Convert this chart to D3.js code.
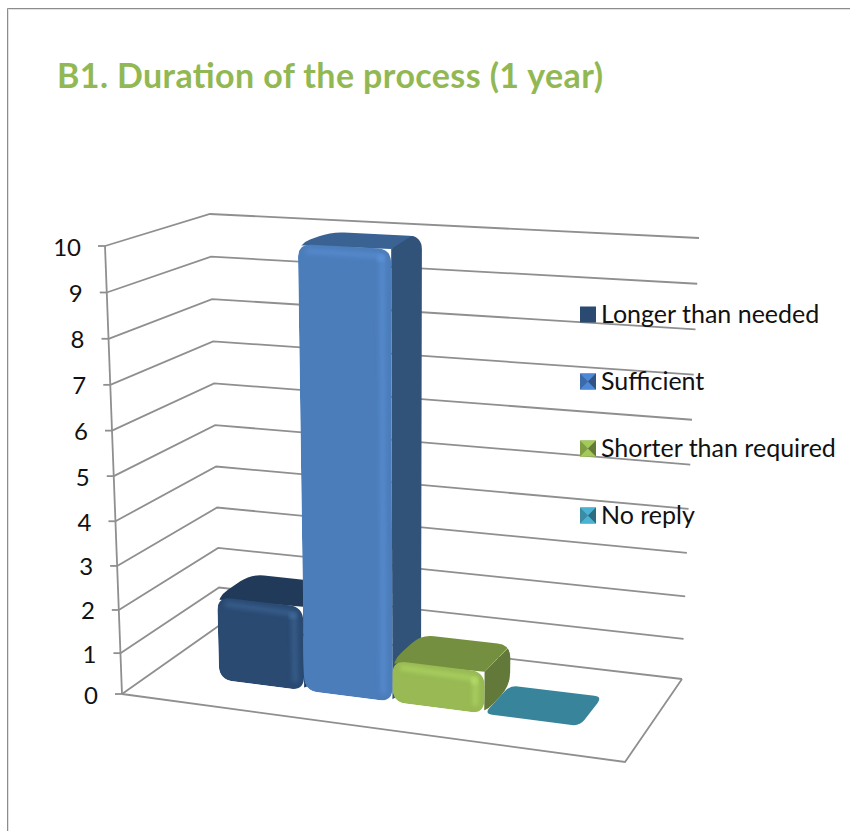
<!DOCTYPE html>
<html><head><meta charset="utf-8">
<script src="https://cdn.jsdelivr.net/npm/d3@7/dist/d3.min.js"></script>
<style>html,body{margin:0;padding:0;background:#fff}svg{display:block}text{font-family:Lato,"Open Sans",sans-serif}</style>
</head><body><svg id="c" width="850" height="831"></svg>
<script>
const categories=["Longer than needed","Sufficient","Shorter than required","No reply"];
const values=[2,10,1,0];
const tickValues=[0,1,2,3,4,5,6,7,8,9,10];
const titleText="B1. Duration of the process (1 year)";
const faceColors=["#2a4a72","#4c7dbb","#98b954","#37849b"];
const topColors=["#213a5a","#3a6394","#748f3f","#37849b"];
const sideColors=["#223f63","#325379","#62793a","#37849b"];
const hiColors=["#3f6a9a","#5c93d8","#b4dc66","#37849b"];
const swatchColors=["#2a4a72","#3d6aa8","#7f9d45","#3b8ba4"];

const svg=d3.select("#c");
svg.append("path").attr("d","M7.5,831V8.5H850").attr("fill","none").attr("stroke","#8c8c8c").attr("stroke-width",1);
svg.append("path").attr("d","M8.5,831V9.5H850").attr("fill","none").attr("stroke","#e2e2e2").attr("stroke-width",1);
svg.append("text").attr("x",57).attr("y",88).attr("font-size",34).attr("font-weight",700).attr("fill","#92b853")
  .attr("textLength",546).attr("lengthAdjust","spacing").text(titleText);

const floorQ=[[122,694],[625,762],[682,679],[220,625]];
const ceilQ=[[105,246],[637,276.5],[699,238],[210,214]];
function homography(q){
  const [[x0,y0],[x1,y1],[x2,y2],[x3,y3]]=q;
  const dx1=x1-x2,dx2=x3-x2,dx3=x0-x1+x2-x3,dy1=y1-y2,dy2=y3-y2,dy3=y0-y1+y2-y3;
  const den=dx1*dy2-dx2*dy1;
  const g=(dx3*dy2-dx2*dy3)/den,h=(dx1*dy3-dx3*dy1)/den;
  const a=x1-x0+g*x1,b=x3-x0+h*x3,d=y1-y0+g*y1,e=y3-y0+h*y3;
  return (u,w)=>{const k=g*u+h*w+1;return [(a*u+b*w+x0)/k,(d*u+e*w+y0)/k];};
}
const hF=homography(floorQ),hC=homography(ceilQ);
const yS=d3.scalePow().exponent(1.04).domain([0,10]).range([0,1]);
const xS=d3.scaleBand().domain(categories).range([0,1]).paddingInner(0).paddingOuter(0.72).align(0.547);
const wFront=0.31,wBack=0.67;
function P(u,val,w){const a=hF(u,w),b=hC(u,w),t=yS(val);return [a[0]+(b[0]-a[0])*t,a[1]+(b[1]-a[1])*t];}

const wallG=svg.append("g").attr("fill","none").attr("stroke","#8f8f8f").attr("stroke-width",1.8);
tickValues.forEach(v=>{
  wallG.append("path").attr("d",d3.line()([P(0,v,0),P(0,v,1),P(1,v,1)]));
});
wallG.append("path").attr("d",d3.line()([P(0,0,0),P(0,10,0)]));
wallG.append("path").attr("d",d3.line()([P(0,0,0),P(1,0,0),P(1,0,1)]));
tickValues.forEach(v=>{
  const p=P(0,v,0);
  wallG.append("path").attr("d",d3.line()([p,[p[0]-7,p[1]]]));
  svg.append("text").attr("x",p[0]-24).attr("y",p[1]+9.5).attr("text-anchor","end").attr("font-size",24).attr("fill","#111").text(v);
});

function rounded(pts,r){
  let d="";const n=pts.length;
  pts.forEach((p,i)=>{
    const a=pts[(i-1+n)%n],b=pts[(i+1)%n];
    const la=Math.hypot(a[0]-p[0],a[1]-p[1]),lb=Math.hypot(b[0]-p[0],b[1]-p[1]);
    const ra=Math.min(r,la/2)/la,rb=Math.min(r,lb/2)/lb;
    const s=[p[0]+(a[0]-p[0])*ra,p[1]+(a[1]-p[1])*ra],e=[p[0]+(b[0]-p[0])*rb,p[1]+(b[1]-p[1])*rb];
    d+=(i?"L":"M")+s[0]+","+s[1]+"Q"+p[0]+","+p[1]+" "+e[0]+","+e[1];
  });
  return d+"Z";
}
const defs=svg.append("defs");
defs.append("filter").attr("id","soft").append("feGaussianBlur").attr("stdDeviation",2);

const order=[3,0,1,2];
const barG=svg.append("g");
order.forEach(i=>{
  const c=categories[i],v=values[i];
  const u0=xS(c),u1=u0+xS.bandwidth();
  const g=barG.append("g");
  if(v===0){
    g.append("path").attr("d",rounded([P(u0,0,wFront),P(u1,0,wFront),P(u1,0,wBack),P(u0,0,wBack)],8)).attr("fill",faceColors[i]);
    return;
  }
  const fBL=P(u0,0,wFront),fBR=P(u1,0,wFront),fTR=P(u1,v,wFront),fTL=P(u0,v,wFront);
  const bBR=P(u1,0,wBack),bTR=P(u1,v,wBack),bTL=P(u0,v,wBack);
  const id="clip"+i;
  defs.append("clipPath").attr("id",id).append("path").attr("d",rounded([fBL,fBR,bBR,bTR,bTL,fTL],13));
  const s=g.append("g").attr("clip-path",`url(#${id})`);
  s.append("path").attr("d",d3.line()([[fTL[0]-30,fTL[1]],fTR,bTR,[bTR[0]+20,bTR[1]-20],[bTL[0]-30,bTL[1]-20]])+"Z").attr("fill",topColors[i]);
  s.append("path").attr("d",d3.line()([fTR,fBR,[bBR[0]+20,bBR[1]+20],[bTR[0]+20,bTR[1]-20]])+"Z").attr("fill",sideColors[i]);
  s.append("path").attr("d",rounded([fTL,fTR,fBR,fBL],14)).attr("fill",faceColors[i]);
  const hl=g.append("g").attr("clip-path",`url(#${id})`).append("g").attr("filter","url(#soft)").attr("fill","none").attr("stroke",hiColors[i]).attr("stroke-width",6).attr("opacity",0.55);
  hl.append("path").attr("d",d3.line()([[fTL[0]+8,fTL[1]+7],[fTR[0]-8,fTR[1]+7]]));
  hl.append("path").attr("d",d3.line()([[fTR[0]-9,fTR[1]+7],[fBR[0]-9,fBR[1]-8]]));
  g.append("circle").attr("cx",fTR[0]-10).attr("cy",fTR[1]+9).attr("r",3.5).attr("fill",hiColors[i]).attr("filter","url(#soft)");
});

const legendRows=d3.scalePoint().domain(categories).range([314.5,515.5]);
const lg=svg.append("g");
categories.forEach((c,i)=>{
  const y=legendRows(c),x=580,s=16,t=y-s/2,m=s/2;
  const col=d3.color(swatchColors[i]);
  lg.append("rect").attr("x",x).attr("y",t).attr("width",s).attr("height",s).attr("fill",swatchColors[i]);
  if(i>0){
    lg.append("path").attr("d",`M${x},${t}L${x+m},${t+m}L${x+s},${t}Z`).attr("fill",col.brighter(.7));
    lg.append("path").attr("d",`M${x},${t+s}L${x+m},${t+m}L${x+s},${t+s}Z`).attr("fill",col.brighter(.7));
    lg.append("path").attr("d",`M${x+s},${t}L${x+m},${t+m}L${x+s},${t+s}Z`).attr("fill",col.darker(.7));
  }
  lg.append("text").attr("x",601).attr("y",y+8).attr("font-size",25).attr("fill","#111").text(c);
});
</script></body></html>
